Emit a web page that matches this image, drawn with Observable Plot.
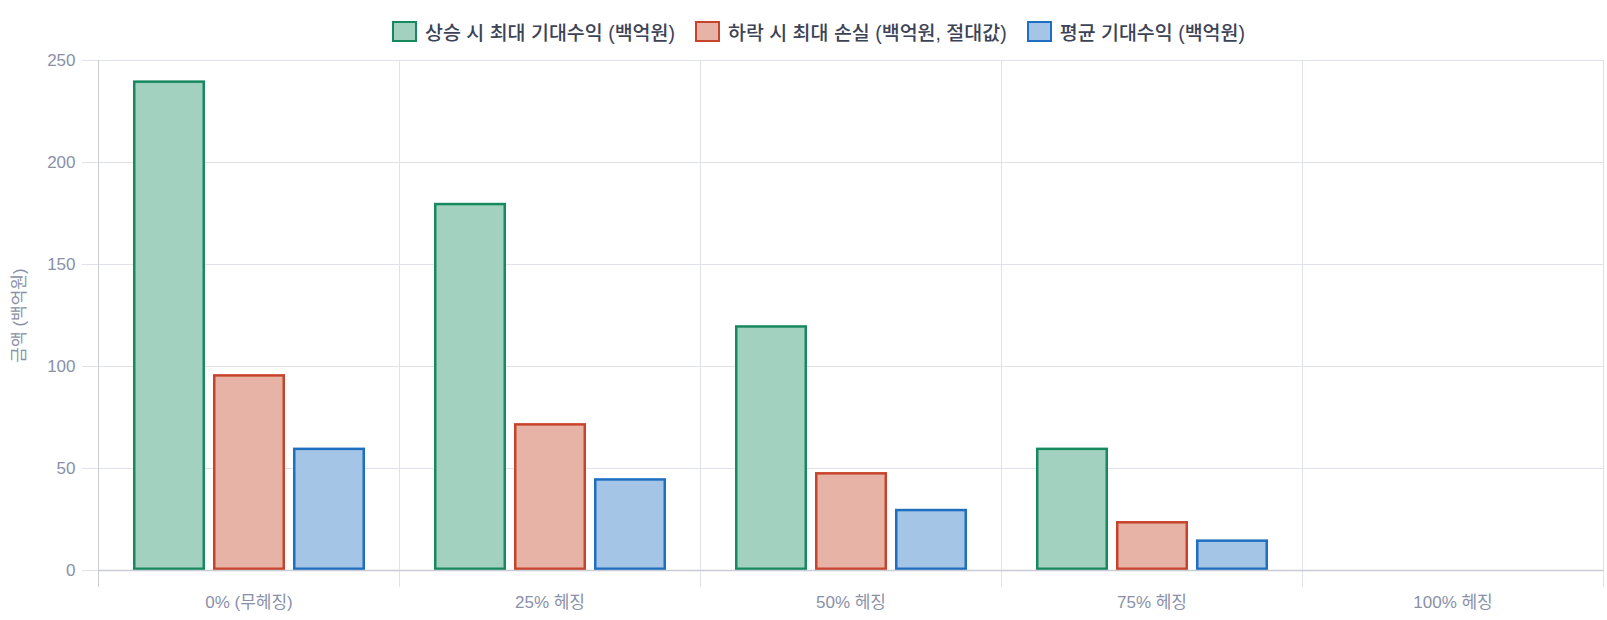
<!DOCTYPE html>
<html><head><meta charset="utf-8">
<script src="https://cdn.jsdelivr.net/npm/d3@7"></script>
<script src="https://cdn.jsdelivr.net/npm/@observablehq/plot@0.6"></script>
<style>
html,body{margin:0;background:#fff;overflow:hidden;font-family:"Liberation Sans","Noto Sans CJK KR",sans-serif;}
#legend{height:50px;display:flex;justify-content:center;align-items:center;gap:20px;padding-top:12px;padding-left:30px;box-sizing:border-box;}
.item{display:flex;align-items:center;font-size:19.5px;color:#3d4356;font-weight:500;white-space:nowrap;}
.sw{width:25px;height:21px;border:2.5px solid;margin-right:8px;box-sizing:border-box;}
#chart svg{display:block;}
</style></head><body>
<div id="legend"></div>
<div id="chart"></div>
<script>
const categories = ["0% (무헤징)", "25% 헤징", "50% 헤징", "75% 헤징", "100% 헤징"];
const seriesNames = ["상승 시 최대 기대수익 (백억원)", "하락 시 최대 손실 (백억원, 절대값)", "평균 기대수익 (백억원)"];
const upside = [240, 180, 120, 60, 0];
const downside = [96, 72, 48, 24, 0];
const average = [60, 45, 30, 15, 0];
const strokeColors = ["#17895e", "#c8432b", "#1f6fc1"];
const fillColors = ["#a3d1c0", "#e8b3a7", "#a4c5e6"];
const yTicks = [0, 50, 100, 150, 200, 250];
const yLabel = "금액 (백억원)";

const seriesValues = [upside, downside, average];
const data = [];
categories.forEach((c, i) => seriesValues.forEach((vals, s) => data.push({cat: c, series: seriesNames[s], s, value: vals[i]})));

const legend = document.getElementById("legend");
seriesNames.forEach((n, i) => {
  const it = document.createElement("div"); it.className = "item";
  const sw = document.createElement("div"); sw.className = "sw";
  sw.style.borderColor = strokeColors[i]; sw.style.background = fillColors[i];
  it.appendChild(sw); it.appendChild(document.createTextNode(n));
  legend.appendChild(it);
});

const grid = "#e0e2ea";
const axisGray = "#c9ccd5";
const tickText = "#8990a8";
const font = '"Liberation Sans","Noto Sans CJK KR",sans-serif';

const plot = Plot.plot({
  width: 1607,
  height: 570,
  marginLeft: 96,
  marginRight: 1.5,
  marginTop: 10,
  marginBottom: 50,
  style: {fontFamily: font, fontSize: "17px", color: tickText, background: "#fff", overflow: "visible"},
  fx: {domain: categories, padding: 0, label: null},
  x: {domain: seriesNames, paddingInner: 0.1, paddingOuter: 0.425, axis: null},
  y: {domain: [0, 250], label: null},
  color: {type: "identity"},
  marks: [
    Plot.gridY(yTicks, {stroke: grid, strokeOpacity: 1}),
    Plot.frame({anchor: "left", stroke: grid, strokeOpacity: 1, insetBottom: -16}),
    Plot.frame({anchor: "right", stroke: grid, strokeOpacity: 1, insetBottom: -16}),
    Plot.frame({anchor: "left", stroke: axisGray, strokeOpacity: 1, insetBottom: -16, fx: () => categories[0]}),
    Plot.axisY(yTicks, {tickSize: 16, tickPadding: 7, stroke: grid, strokeOpacity: 1, fill: tickText, fontSize: 17,
      label: yLabel, labelAnchor: "center", labelOffset: 86, labelArrow: "none"}),
    Plot.axisFx({anchor: "bottom", tickSize: 0, tickPadding: 25, fill: tickText, fontSize: 17, label: null}),
    Plot.barY(data, {fx: "cat", x: "series", y: "value",
      fill: d => fillColors[d.s], stroke: d => strokeColors[d.s], inset: 1.25, strokeWidth: 2.5}),
    Plot.ruleY([0], {stroke: axisGray, strokeWidth: 1.5}),
  ]
});
document.getElementById("chart").appendChild(plot);
</script></body></html>
